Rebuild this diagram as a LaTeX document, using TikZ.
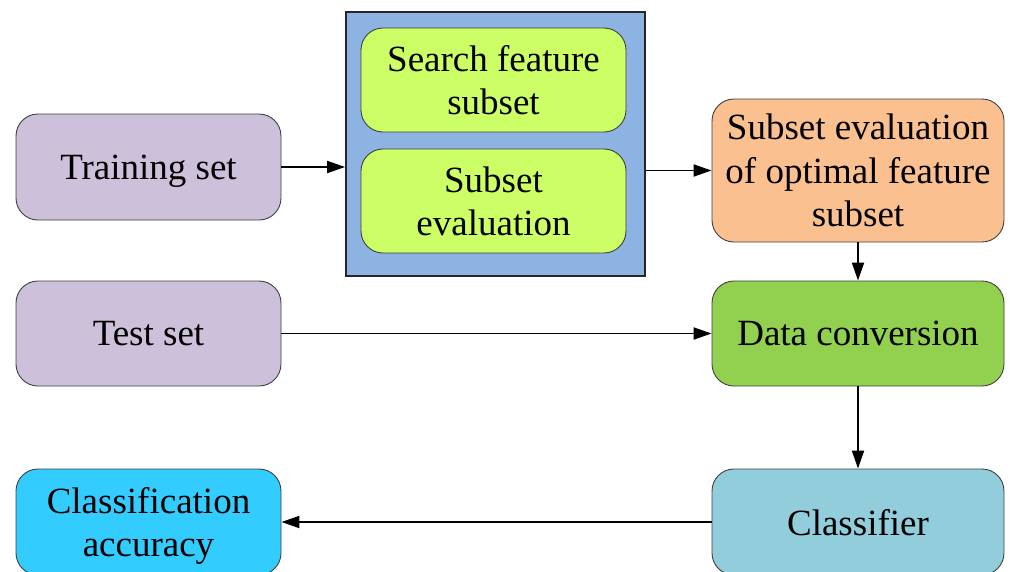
\documentclass[tikz,border=0pt]{standalone}
\usepackage{fontspec}
\setmainfont{Liberation Serif}
\usetikzlibrary{arrows.meta}
\definecolor{lavender}{HTML}{CCC0DA}
\definecolor{skyblue}{HTML}{33CCFF}
\definecolor{panelblue}{HTML}{8DB3E2}
\definecolor{lime}{HTML}{CCFF66}
\definecolor{peach}{HTML}{FAC090}
\definecolor{leaf}{HTML}{92D050}
\definecolor{teal}{HTML}{92CDDC}
\tikzset{
  box/.style={draw=black!75, line width=0.9pt, rounded corners=22pt, align=center,
    font=\fontsize{37}{43.5}\selectfont, inner sep=0pt, text depth=0pt},
  flow/.style={line width=1.9pt, -{Triangle[length=18pt,width=12pt]}},
}
\begin{document}
\begin{tikzpicture}[x=1pt,y=-1pt]
\useasboundingbox (0,0) rectangle (1010,571);
% inputs on the left
\node[box, fill=lavender, minimum width=265pt, minimum height=106pt] (train) at (148.5,167) {Training set};
\node[box, fill=lavender, minimum width=265pt, minimum height=105pt] (test) at (148.5,333.5) {Test set};
\node[box, fill=skyblue, minimum width=265pt, minimum height=106pt] (acc) at (148.5,522) {Classification\\accuracy};
% feature selection panel
\node[draw=black!85, line width=1.8pt, fill=panelblue, minimum width=299pt, minimum height=264pt, inner sep=0pt] (panel) at (495.5,144) {};
\node[box, fill=lime, minimum width=265pt, minimum height=104pt] (search) at (493.5,80) {Search feature\\subset};
\node[box, fill=lime, minimum width=265pt, minimum height=104pt] (subeval) at (493.5,201) {Subset\\evaluation};
% processing chain on the right
\node[box, fill=peach, minimum width=292pt, minimum height=143pt] (opt) at (858,170.5) {Subset evaluation\\of optimal feature\\subset};
\node[box, fill=leaf, minimum width=292pt, minimum height=105pt] (conv) at (858,333.5) {Data conversion};
\node[box, fill=teal, minimum width=292pt, minimum height=106pt] (cls) at (858,522) {Classifier};
% connectors
\draw[flow] (train.east) -- (train.east -| panel.west);
\draw[flow] (panel.east |- opt.west) -- (opt.west);
\draw[flow] (opt.south) -- (conv.north);
\draw[flow] (test.east) -- (conv.west);
\draw[flow] (conv.south) -- (cls.north);
\draw[flow] (cls.west) -- (acc.east);
\end{tikzpicture}
\end{document}
